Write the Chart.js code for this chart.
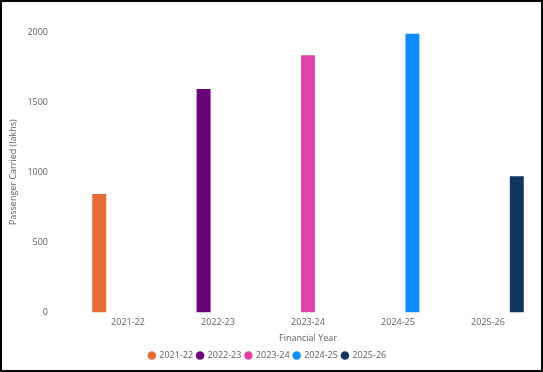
<!DOCTYPE html>
<html>
<head>
<meta charset="utf-8">
<script src="https://cdn.jsdelivr.net/npm/chart.js@4.4.1/dist/chart.umd.min.js"></script>
<style>
  html, body { margin: 0; padding: 0; background: #fff; }
  .box { width: 539px; height: 368px; border: 2px solid #000; }
</style>
</head>
<body>
<div class="box"><canvas id="c" width="539" height="368"></canvas></div>
<script>
// financial years, one series per year
const years = ['2021-22', '2022-23', '2023-24', '2024-25', '2025-26'];
const passengers = [844, 1594, 1834, 1988, 972];
const colors = ['#E66C37', '#6B007B', '#E044A7', '#118DFF', '#12375E'];
const yTicks = [0, 500, 1000, 1500, 2000];

const txt = '#605E5C';
const fnt = { family: 'Open Sans', size: 9 };

let sets = years.map(function (y, i) {
    return {
        label: y,
        data: years.map(function (_, j) { return j === i ? passengers[i] : null; }),
        backgroundColor: colors[i],
        borderWidth: 0
    };
});

new Chart(document.getElementById('c'), {
    type: 'bar',
    data: { labels: years, datasets: sets },
    options: {
        responsive: false,
        animation: false,
        categoryPercentage: 0.8,
        barPercentage: 0.97,
        layout: { padding: { top: 30, right: 8, bottom: 0, left: 0 } },
        plugins: {
            tooltip: { enabled: false },
            legend: {
                position: 'bottom',
                labels: {
                    usePointStyle: true,
                    pointStyle: 'circle',
                    boxWidth: 6,
                    boxHeight: 6,
                    padding: 4,
                    color: txt,
                    font: fnt
                }
            }
        },
        scales: {
            x: {
                grid: { display: false, drawTicks: false },
                border: { display: false },
                ticks: { color: txt, font: fnt, padding: 5 },
                title: { display: true, text: 'Financial Year', color: txt, font: fnt, padding: { top: 0, bottom: 3 } }
            },
            y: {
                min: 0,
                max: 2000,
                grid: { display: false, drawTicks: false },
                border: { display: false },
                afterBuildTicks: function (s) { s.ticks = yTicks.map(function (v) { return { value: v }; }); },
                afterFit: function (s) {
                    s.width = 81;
                    // big tick padding is only for the gap to the bars
                    s.paddingTop = 7;
                    s.paddingBottom = 7;
                },
                ticks: { color: txt, font: fnt, padding: 35, callback: function (v) { return String(v); } },
                title: { display: true, text: 'Passenger Carried (lakhs)', color: txt, font: fnt, padding: { top: 6, bottom: 0 } }
            }
        }
    }
});
</script>
</body>
</html>
